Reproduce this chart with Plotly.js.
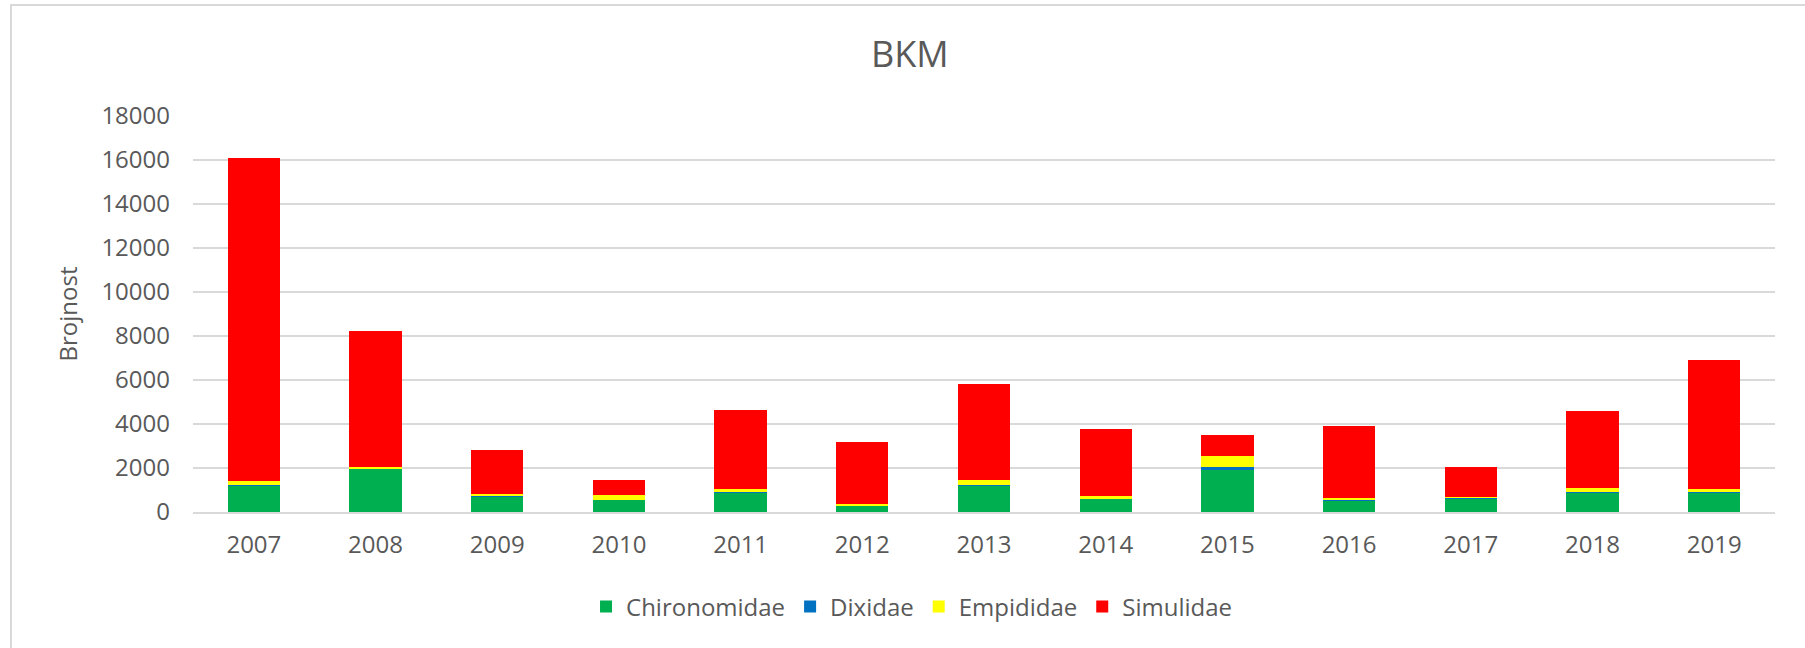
<!DOCTYPE html>
<html>
<head>
<meta charset="utf-8">
<script src="https://cdn.plot.ly/plotly-3.0.1.min.js"></script>
<style>
  html, body { margin: 0; padding: 0; background: #fff; }
  #wrap { position: relative; width: 1805px; height: 648px; overflow: hidden; }
  #chart { width: 1805px; height: 648px; }
  #frame { position: absolute; left: 10px; top: 4px; width: 1820px; height: 660px;
           border-left: 2px solid #d9d9d9; border-top: 2px solid #d9d9d9; pointer-events: none; }
</style>
</head>
<body>
<div id="wrap">
  <div id="chart"></div>
  <div id="frame"></div>
</div>
<script>
const years = ["2007","2008","2009","2010","2011","2012","2013","2014","2015","2016","2017","2018","2019"];
const chironomidae = [1200, 1965, 695, 560, 890, 300, 1207, 605, 1950, 513, 605, 890, 876];
const dixidae      = [30, 30, 10, 5, 20, 10, 10, 30, 90, 60, 45, 20, 75];
const empididae    = [190, 70, 135, 195, 120, 75, 257, 75, 484, 60, 45, 197, 75];
const simulidae    = [14680, 6185, 1990, 710, 3620, 2815, 4325, 3060, 965, 3285, 1345, 3495, 5875];

const seriesNames = ["Chironomidae", "Dixidae", "Empididae", "Simulidae"];
const seriesValues = [chironomidae, dixidae, empididae, simulidae];
const seriesColors = ["#00B050", "#0070C0", "#FFFF00", "#FF0000"];

const traces = seriesNames.map((name, i) => ({
  type: "bar",
  name: name,
  x: years,
  y: seriesValues[i],
  marker: { color: seriesColors[i], line: { width: 0 } },
  hoverinfo: "x+y+name"
}));

const textColor = "#595959";
const layout = {
  width: 1805,
  height: 648,
  autosize: false,
  paper_bgcolor: "#ffffff",
  plot_bgcolor: "#ffffff",
  font: { family: "Open Sans, sans-serif", color: textColor, size: 24 },
  margin: { l: 193, r: 30, t: 116, b: 136, pad: 0 },
  barmode: "stack",
  bargap: 0.57,
  title: {
    text: "BKM",
    font: { size: 36, color: textColor },
    xref: "container",
    x: 0.504,
    xanchor: "center",
    yref: "container",
    y: 1 - 54 / 648,
    yanchor: "middle"
  },
  xaxis: {
    type: "category",
    showgrid: false,
    showline: true,
    linecolor: "#d9d9d9",
    linewidth: 2,
    ticks: "",
    tickfont: { size: 24, color: textColor },
    ticklabelstandoff: 10
  },
  yaxis: {
    range: [0, 18000],
    dtick: 2000,
    tick0: 0,
    tickformat: "d",
    showgrid: true,
    gridcolor: "#d9d9d9",
    gridwidth: 2,
    zeroline: false,
    showline: false,
    ticks: "",
    tickfont: { size: 24, color: textColor },
    ticklabelstandoff: 22,
    title: { text: "Brojnost", font: { size: 24, color: textColor }, standoff: 16 }
  },
  showlegend: true,
  legend: {
    orientation: "h",
    traceorder: "normal",
    xref: "container",
    yref: "container",
    x: 0.505,
    xanchor: "center",
    y: 1 - 607 / 648,
    yanchor: "middle",
    font: { size: 24, color: textColor },
    itemwidth: 30,
    itemclick: false
  }
};

Plotly.newPlot("chart", traces, layout, { displayModeBar: false });
</script>
</body>
</html>
